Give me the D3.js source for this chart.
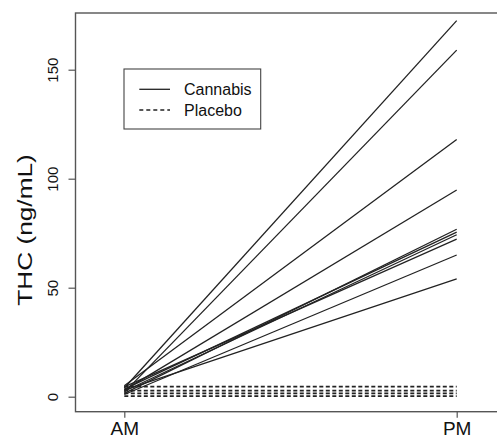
<!DOCTYPE html>
<html><head><meta charset="utf-8">
<script src="https://cdn.jsdelivr.net/npm/d3@7"></script>
<style>body{margin:0;background:#fff}svg{display:block}text{font-family:"Liberation Sans",Arial,Helvetica,sans-serif;fill:#111}</style>
</head><body>
<script>
const timepoints = ["AM", "PM"];
const cannabisAM = [4, 2, 5, 3, 1.5, 3.5, 2.5, 4.5, 1, 3];
const cannabisPM = [172.5, 159, 118, 94.8, 76.8, 75.5, 74.3, 72.3, 65, 54];
const placeboAM = [4.6, 2.8, 1.5, 0.3];
const placeboPM = [4.6, 2.8, 1.5, 0.3];
const yTicks = [0, 50, 100, 150];
const yTitle = "THC (ng/mL)";
const legendLabels = ["Cannabis", "Placebo"];

const W = 497, H = 440;
const svg = d3.select("body").append("svg").attr("width", W).attr("height", H);

const x = d3.scalePoint().domain(timepoints).range([124.3, 456.7]);
const y = d3.scaleLinear().domain([0, 150]).range([396.7, 69.7]);

const boxL = 75.5, boxT = 13, boxB = 411.7, boxR = 520;
svg.append("rect").attr("x", boxL).attr("y", boxT).attr("width", boxR - boxL).attr("height", boxB - boxT)
  .attr("fill", "none").attr("stroke", "#555").attr("stroke-width", 1.4);

// y axis
const ya = svg.append("g").attr("transform", `translate(${boxL},0)`)
  .call(d3.axisLeft(y).tickValues(yTicks).tickSize(7).tickPadding(0).tickFormat(d3.format("d")));
ya.select(".domain").remove();
ya.selectAll(".tick line").attr("stroke", "#555").attr("stroke-width", 1.2);
ya.selectAll(".tick text").attr("x", 0).attr("dy", 0)
  .attr("transform", "translate(-17.5,0) rotate(-90)").attr("text-anchor", "middle")
  .style("font-size", "15px").attr("fill", "#111");

// x axis
const xa = svg.append("g").attr("transform", `translate(0,${boxB})`)
  .call(d3.axisBottom(x).tickSize(6).tickPadding(4));
xa.select(".domain").remove();
xa.selectAll(".tick line").attr("stroke", "#555").attr("stroke-width", 1.2);
xa.selectAll(".tick text").style("font-size", "19px").attr("dy", "0.71em").attr("fill", "#111");

// y title
svg.append("text").attr("transform", `translate(32,230) rotate(-90) scale(1.25,1)`).attr("text-anchor", "middle")
  .style("font-size", "21px").text(yTitle);

// lines
const line = d3.line().x(d => x(d[0])).y(d => y(d[1]));
const cannabis = cannabisAM.map((v, i) => [["AM", v], ["PM", cannabisPM[i]]]);
const placebo = placeboAM.map((v, i) => [["AM", v], ["PM", placeboPM[i]]]);
svg.append("g").selectAll("path").data(cannabis).join("path")
  .attr("d", line).attr("fill", "none").attr("stroke", "#222").attr("stroke-width", 1.3);
svg.append("g").selectAll("path").data(placebo).join("path")
  .attr("d", line).attr("fill", "none").attr("stroke", "#222").attr("stroke-width", 1.8)
  .attr("stroke-dasharray", "4,2.5");

// legend
const lg = svg.append("g");
lg.append("rect").attr("x", 124).attr("y", 69).attr("width", 136.7).attr("height", 60)
  .attr("fill", "#fff").attr("stroke", "#444").attr("stroke-width", 1.1);
const ly = [89.3, 110];
lg.selectAll("line").data(legendLabels).join("line")
  .attr("x1", 139.3).attr("x2", 170).attr("y1", (d, i) => ly[i]).attr("y2", (d, i) => ly[i])
  .attr("stroke", "#222").attr("stroke-width", 1.3)
  .attr("stroke-dasharray", (d, i) => i ? "4,3" : null);
lg.selectAll("text").data(legendLabels).join("text")
  .attr("x", 184).attr("y", (d, i) => ly[i]).attr("dy", "0.35em")
  .style("font-size", "16px").text(d => d);
</script>
</body></html>
